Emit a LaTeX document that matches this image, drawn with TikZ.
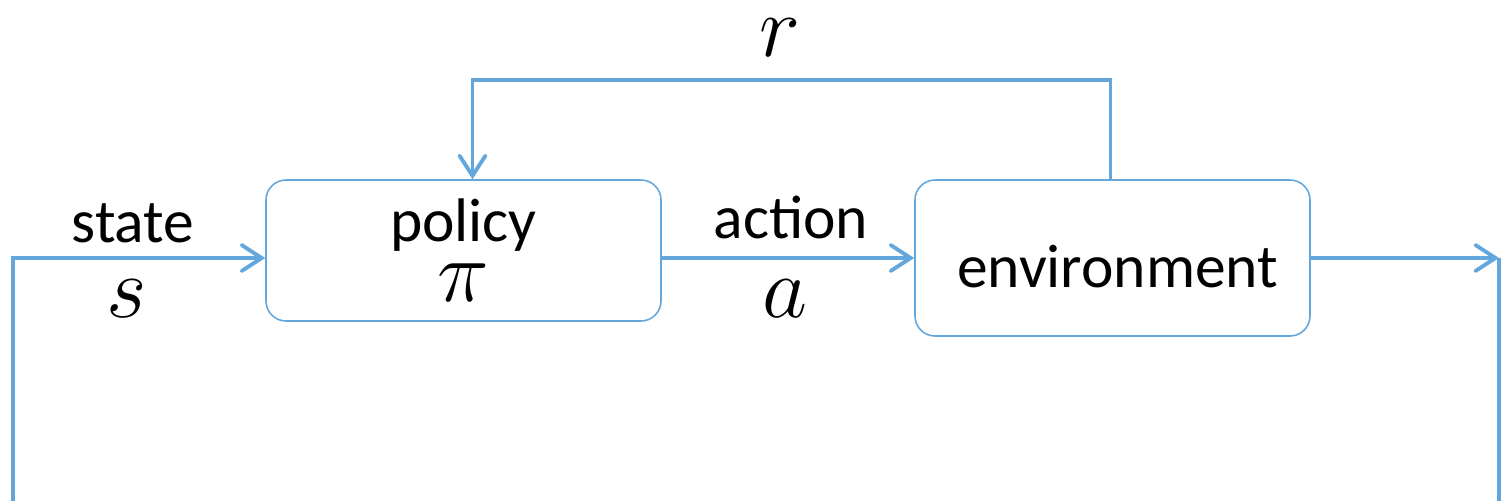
\documentclass[tikz,border=0pt]{standalone}
\usepackage{amsmath}
\usepackage{fontspec}
\setmainfont{Carlito}
\usepackage{xcolor}
\usepackage{tikz}
\usetikzlibrary{positioning, arrows.meta, calc}

\definecolor{flowblue}{HTML}{64A7DC}

\begin{document}
\begin{tikzpicture}[
    box/.style={draw=flowblue, line width=0.45pt, rounded corners=0.2cm, minimum width=3.95cm, align=center},
    flow/.style={draw=flowblue, line width=0.9pt},
    tip/.style={-{Straight Barb[length=0.2cm, width=0.26cm, line cap=round, line width=1.1pt]}},
    txt/.style={font=\fontsize{17.5}{19}\selectfont},
    sym/.style={font=\fontsize{27}{30}\selectfont}
  ]
  \useasboundingbox (0,0) rectangle (15.01,5.01);

  % the two blocks
  \node[box, minimum height=1.41cm, txt] (policy) at (4.635,2.505) {policy\\[-2pt]{\fontsize{27}{30}\selectfont$\pi$}};
  \node[box, minimum height=1.56cm, txt, text height=0.6cm] (env) at (11.125,2.43) {\,environment};

  % free ends
  \coordinate (sbot) at (0.13,0);
  \coordinate (oend) at (14.99,2.43);
  \coordinate (obot) at (14.99,0);
  \coordinate (rtop) at (0,4.21);

  % connectors
  \draw[flow, tip] (sbot) |- (policy.west |- env.west);
  \draw[flow, tip] (policy.east |- env.west) -- (env.west);
  \draw[flow, tip] (env.east) -- (oend);
  \draw[flow] (oend) -- (obot);
  \draw[flow, tip] ([xshift=-0.02cm]env.north) |- ([xshift=0.09cm]rtop -| policy.north) -- ([xshift=0.09cm]policy.north);

  % labels
  \node[txt] (lstate) at (1.33,2.78) {state};
  \node[sym] (ls) at (1.27,2.02) {$s$};
  \node[txt] (lact) at (7.91,2.84) {action};
  \node[sym] (la) at (7.85,2.02) {$a$};
  \node[sym] (lr) at (7.80,4.63) {$r$};
\end{tikzpicture}
\end{document}
